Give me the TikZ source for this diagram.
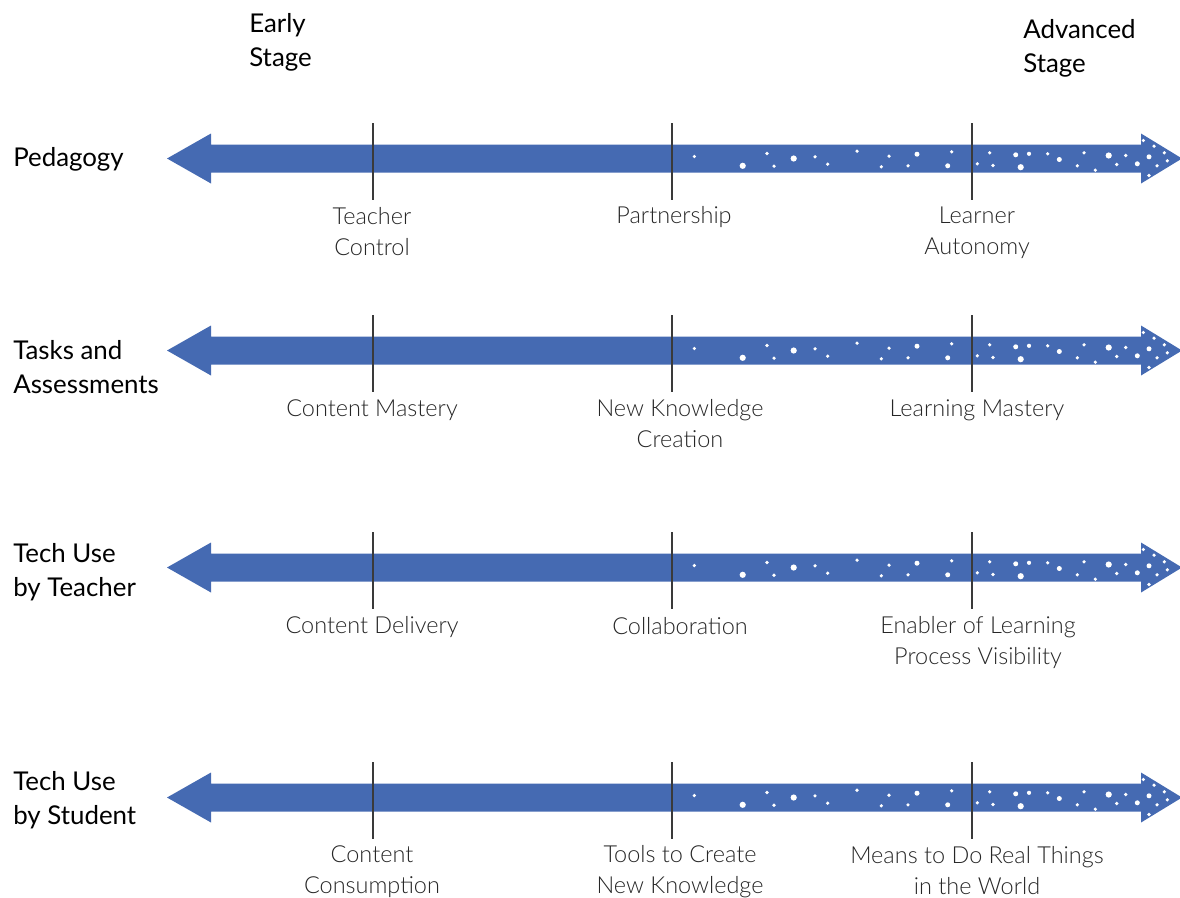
\documentclass[tikz,border=0pt]{standalone}
\usepackage{fontspec}
\setmainfont{Lato}
\newfontfamily\lightfont{Lato Light}
\definecolor{arrowblue}{HTML}{456AB2}
\definecolor{tickgray}{HTML}{3A3A3A}
\tikzset{
  band/.style={fill=arrowblue, draw=none},
  tickline/.style={draw=tickgray, line width=1.25pt},
  speck/.style={fill=white, draw=none},
  rowtitle/.style={font=\fontsize{19.4}{25.5}\selectfont, anchor=west, align=left, inner sep=0pt, text=black},
  poletext/.style={font=\lightfont\fontsize{17.6}{23.25}\selectfont, align=center, inner sep=0pt, text=black!85},
  bandarrow/.pic={
    \fill[band] (167,0) -- (211,-25) -- (211,-14) -- (1141,-14) -- (1141,-25) -- (1182,0)
      -- (1141,25) -- (1141,14) -- (211,14) -- (211,25) -- cycle;
    \foreach \px/\py/\pr in {694.3/-2/1.8, 742.7/7.3/3.1, 767/-5/1.8, 774/7.7/1.8, 793.7/0/3.1,
      815/-1.7/1.8, 827.7/5.7/1.8, 857/-7.3/1.8, 881.3/8.3/1.8, 889/-2.3/1.8, 908/7.3/1.8,
      917/-4.3/2.5, 947.7/7.3/2.5, 951.7/-6.7/1.8, 977.3/5.3/1.8, 989.7/-5.7/1.8, 993/7/1.8,
      1015.7/-3.7/2.5, 1020.7/8.7/3.1, 1029/-4.7/2.1, 1047.7/-4.7/1.8, 1059.3/1/2.5,
      1077.3/7.3/1.8, 1084/-5.7/1.8, 1095.3/11.7/1.8, 1108.7/-3/3.1, 1116.7/6/1.8,
      1125.7/-3/1.8, 1137.3/5.3/2.5, 1143.3/-18/1.8, 1149/-1.7/2.5, 1154/-12.3/1.8,
      1157/7.3/1.8, 1164.3/-5.7/1.8, 1167.3/2.3/1.8, 1149/17/1.8}
      {\fill[speck] (\px,\py) circle[radius=\pr*0.75pt];}
    \foreach \tx in {373,672,972}{\draw[tickline] (\tx,-35.5) -- (\tx,41.5);}
  }
}
\begin{document}
\begin{tikzpicture}[x=0.75pt,y=-0.75pt]
\useasboundingbox (0,0) rectangle (1180,897);
% stage headings
\node[rowtitle] (early) at (249,42) {Early\\Stage};
\node[rowtitle] (advanced) at (1023,48) {Advanced\\Stage};
% row titles
\node[rowtitle] (ped) at (13,159) {Pedagogy};
\node[rowtitle] (tasks) at (13,367) {Tasks and\\Assessments};
\node[rowtitle] (techT) at (13,572) {Tech Use\\by Teacher};
\node[rowtitle] (techS) at (13,800) {Tech Use\\by Student};
% arrows
\pic (arrowA) at (0,158.5) {bandarrow};
\pic (arrowB) at (0,350.5) {bandarrow};
\pic (arrowC) at (0,567.5) {bandarrow};
\pic (arrowD) at (0,797.5) {bandarrow};
% row 1
\node[poletext] (a1) at (372,232) {Teacher\\Control};
\node[poletext] (a2) at (674,217) {Partnership};
\node[poletext] (a3) at (977,233) {Learner\\Autonomy};
% row 2
\node[poletext] (b1) at (372,410) {Content Mastery};
\node[poletext] (b2) at (680,424) {New Knowledge\\Creation};
\node[poletext] (b3) at (977,410) {Learning Mastery};
% row 3
\node[poletext] (c1) at (372,627) {Content Delivery};
\node[poletext] (c2) at (680,626) {Collaboration};
\node[poletext] (c3) at (978,643) {Enabler of Learning\\Process Visibility};
% row 4
\node[poletext] (d1) at (372,872) {Content\\Consumption};
\node[poletext] (d2) at (680,872) {Tools to Create\\New Knowledge};
\node[poletext] (d3) at (977,871) {Means to Do Real Things\\in the World};
\end{tikzpicture}
\end{document}
